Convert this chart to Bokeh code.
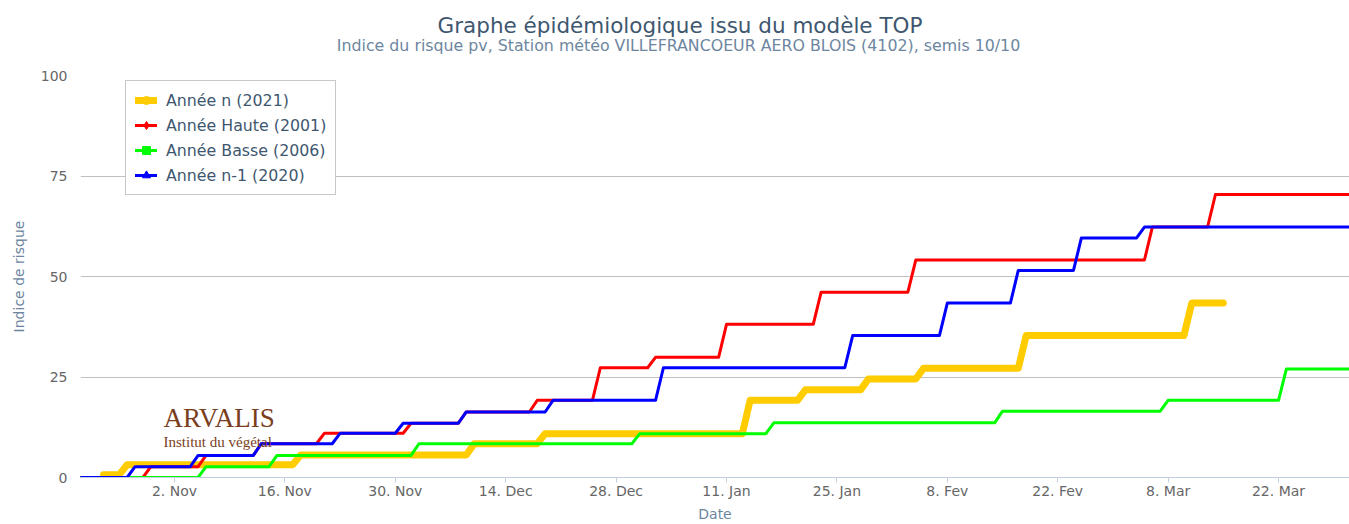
import datetime as dt
import pandas as pd
from bokeh.plotting import figure
from bokeh.layouts import column
from bokeh.models import Range1d, FixedTicker, Label, Legend, LegendItem
from bokeh.embed import file_html
from bokeh.resources import INLINE

# ---------------- data ----------------
title_text = "Graphe épidémiologique issu du modèle TOP"
subtitle_text = "Indice du risque pv, Station météo VILLEFRANCOEUR AERO BLOIS (4102), semis 10/10"
x_title = "Date"
y_title = "Indice de risque"
semis_date = "2020-10-10"

tick_dates = ["2020-11-02", "2020-11-16", "2020-11-30", "2020-12-14", "2020-12-28",
              "2021-01-11", "2021-01-25", "2021-02-08", "2021-02-22", "2021-03-08", "2021-03-22"]
tick_labels = ["2. Nov", "16. Nov", "30. Nov", "14. Dec", "28. Dec",
               "11. Jan", "25. Jan", "8. Fev", "22. Fev", "8. Mar", "22. Mar"]
y_ticks = [0, 25, 50, 75, 100]

series_names = ["Année n (2021)", "Année Haute (2001)", "Année Basse (2006)", "Année n-1 (2020)"]

# each series: dates where a new level starts, and that level
n_dates = ["2020-10-24", "2020-10-27", "2020-11-18", "2020-12-10", "2020-12-19", "2021-01-14",
           "2021-01-21", "2021-01-29", "2021-02-05", "2021-02-18", "2021-03-11", "2021-03-15"]
n_vals = [0.7, 3.2, 5.6, 8.4, 10.9, 19.2, 21.8, 24.5, 27.2, 35.3, 43.4, 43.4]

haute_dates = ["2020-10-21", "2020-10-30", "2020-11-06", "2020-11-13", "2020-11-21", "2020-12-02",
               "2020-12-09", "2020-12-18", "2020-12-26", "2021-01-02", "2021-01-11", "2021-01-23",
               "2021-02-04", "2021-03-06", "2021-03-14", "2021-04-02"]
haute_vals = [0, 2.7, 5.5, 8.4, 11.0, 13.5, 16.3, 19.2, 27.3, 29.9, 38.1, 46.1, 54.1, 62.3, 70.4, 70.4]

basse_dates = ["2020-10-21", "2020-11-06", "2020-11-15", "2020-12-03", "2020-12-31", "2021-01-17",
               "2021-02-15", "2021-03-08", "2021-03-23", "2021-04-02"]
basse_vals = [0, 2.7, 5.5, 8.4, 10.9, 13.6, 16.5, 19.2, 27.0, 27.0]

n1_dates = ["2020-10-21", "2020-10-28", "2020-11-05", "2020-11-13", "2020-11-23", "2020-12-01",
            "2020-12-09", "2020-12-20", "2021-01-03", "2021-01-27", "2021-02-08", "2021-02-17",
            "2021-02-25", "2021-03-05", "2021-04-02"]
n1_vals = [0, 2.7, 5.5, 8.4, 11.0, 13.5, 16.3, 19.2, 27.3, 35.3, 43.4, 51.5, 59.6, 62.3, 62.3]

# ---------------- helpers ----------------
def daily_vertices(dates, vals):
    """Vertices of a daily cumulative series: level held until the day before the next level."""
    d = pd.to_datetime(dates)
    xs, ys = [], []
    for i in range(len(d)):
        xs.append(d[i])
        ys.append(vals[i])
        if i + 1 < len(d) and vals[i + 1] != vals[i]:
            xs.append(d[i + 1] - pd.Timedelta(days=1))
            ys.append(vals[i])
    return xs, ys

FONT = "DejaVu Sans"
W = 1349
LEFT = 80
TOP_H = 63

# ---------------- title strip ----------------
pt = figure(width=W, height=TOP_H, x_range=Range1d(LEFT, W), y_range=Range1d(0, TOP_H),
            output_backend="svg", toolbar_location=None, title=None,
            min_border_left=LEFT, min_border_right=0, min_border_top=0, min_border_bottom=0)
pt.axis.visible = False
pt.grid.visible = False
pt.outline_line_color = None
pt.border_fill_color = "white"
pt.add_layout(Label(x=679.5, y=38, text=title_text, text_align="center",
                    text_baseline="alphabetic", text_font=FONT, text_font_size="21.5px",
                    text_color="#3e576f"))
pt.add_layout(Label(x=678, y=18.5, text=subtitle_text, text_align="center",
                    text_baseline="alphabetic", text_font=FONT, text_font_size="15.8px",
                    text_color="#6d869f"))

# ---------------- main chart ----------------
p = figure(width=W, height=524 - TOP_H, x_axis_type="datetime",
           x_range=Range1d(dt.datetime(2020, 10, 21, 2), dt.datetime(2021, 3, 31)),
           y_range=Range1d(0, 100),
           output_backend="svg", toolbar_location=None, title=None,
           min_border_left=LEFT, min_border_right=0, min_border_top=12, min_border_bottom=47)
p.outline_line_color = None
p.background_fill_color = "white"
p.border_fill_color = "white"

tick_ms = [pd.Timestamp(t).value // 10**6 for t in tick_dates]
p.xaxis.ticker = FixedTicker(ticks=tick_ms)
p.xaxis.major_label_overrides = {ms: lab for ms, lab in zip(tick_ms, tick_labels)}
p.xaxis.axis_line_color = "#C0D0E0"
p.xaxis.major_tick_line_color = "#C0D0E0"
p.xaxis.major_tick_out = 5
p.xaxis.major_tick_in = 0
p.xaxis.minor_tick_line_color = None
p.xaxis.major_label_standoff = 0
p.xaxis.major_label_text_font = FONT
p.xaxis.major_label_text_font_size = "14px"
p.xaxis.major_label_text_color = "#666666"
p.xaxis.axis_label = x_title
p.xaxis.axis_label_standoff = 4
p.xaxis.axis_label_text_font = FONT
p.xaxis.axis_label_text_font_size = "14px"
p.xaxis.axis_label_text_font_style = "normal"
p.xaxis.axis_label_text_color = "#6d869f"

p.yaxis.ticker = FixedTicker(ticks=y_ticks)
p.yaxis.axis_line_color = None
p.yaxis.major_tick_line_color = None
p.yaxis.minor_tick_line_color = None
p.yaxis.major_tick_out = 0
p.yaxis.major_label_standoff = 13
p.yaxis.major_label_text_font = FONT
p.yaxis.major_label_text_font_size = "14px"
p.yaxis.major_label_text_color = "#666666"
p.yaxis.axis_label = y_title
p.yaxis.axis_label_standoff = 11
p.yaxis.axis_label_text_font = FONT
p.yaxis.axis_label_text_font_size = "14px"
p.yaxis.axis_label_text_font_style = "normal"
p.yaxis.axis_label_text_color = "#6d869f"

p.xgrid.visible = False
p.ygrid.ticker = FixedTicker(ticks=y_ticks)
p.ygrid.grid_line_color = "#C0C0C0"
p.ygrid.grid_line_width = 1

colors = ["#FFCC00", "#FF0000", "#00FF00", "#0000FF"]
widths = [7, 3, 3, 3]
markers = ["circle", "diamond", "square", "triangle"]
all_data = [(n_dates, n_vals), (haute_dates, haute_vals), (basse_dates, basse_vals), (n1_dates, n1_vals)]

items = []
for (ds, vs), c, w, m, name in zip(all_data, colors, widths, markers, series_names):
    xs, ys = daily_vertices(ds, vs)
    ln = p.line(xs, ys, line_color=c, line_width=w, line_join="round", line_cap="round")
    # legend marker anchored at the sowing date (index 0), outside the displayed period
    mk = p.scatter(x=[pd.Timestamp(semis_date)], y=[0], marker=m, size=9, fill_color=c, line_color=c)
    items.append(LegendItem(label=name, renderers=[ln, mk]))

legend = Legend(items=items, location=(45, 282), margin=0, padding=9, spacing=5,
                glyph_width=22, glyph_height=20, label_height=20, label_standoff=9,
                label_text_font=FONT, label_text_font_size="15.8px", label_text_color="#3e576f",
                border_line_color="#909090", border_line_width=1,
                background_fill_color="white", background_fill_alpha=1)
p.add_layout(legend)

# ARVALIS logo text
p.add_layout(Label(x=83, y=60, x_units="screen", y_units="screen", text="ARVALIS",
                   text_align="left", text_baseline="alphabetic", text_font="Liberation Serif",
                   text_font_size="27px", text_color="#7a3e1d"))
p.add_layout(Label(x=83, y=36, x_units="screen", y_units="screen", text="Institut du végétal",
                   text_align="left", text_baseline="alphabetic", text_font="Liberation Serif",
                   text_font_size="15px", text_color="#7a3e1d"))

layout = column(pt, p, spacing=0)
open("out.html", "w").write(file_html(layout, INLINE))
